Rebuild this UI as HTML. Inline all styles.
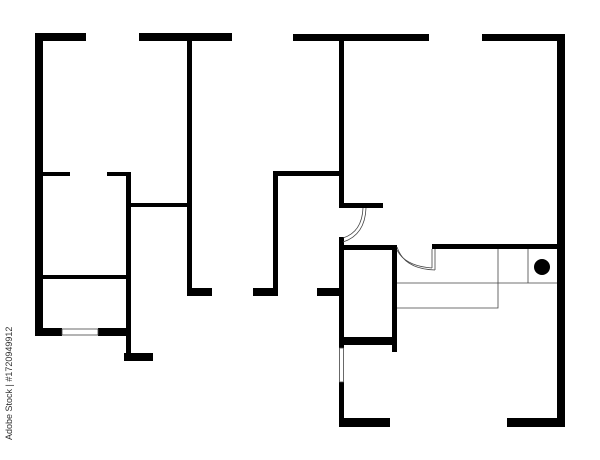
<!DOCTYPE html>
<html><head><meta charset="utf-8"><style>
html,body{margin:0;padding:0;background:#fff;width:600px;height:460px;overflow:hidden}
svg{display:block}
</style></head><body>
<svg width="600" height="460" viewBox="0 0 600 460" xmlns="http://www.w3.org/2000/svg">
<g fill="#000">
<!-- left unit -->
<rect x="35" y="33" width="51" height="8"/>
<rect x="35" y="33" width="8" height="303"/>
<rect x="35" y="328" width="27" height="8"/>
<rect x="98" y="328" width="33" height="8"/>
<rect x="139" y="33" width="93" height="8"/>
<rect x="187" y="33" width="5" height="263"/>
<rect x="187" y="288" width="25" height="8"/>
<rect x="43" y="172" width="27" height="4"/>
<rect x="107" y="172" width="24" height="4"/>
<rect x="126" y="172" width="5" height="189"/>
<rect x="124" y="353" width="29" height="8"/>
<rect x="131" y="203" width="56" height="4"/>
<rect x="43" y="275" width="83" height="4"/>
<!-- middle L -->
<rect x="273" y="171" width="66" height="5"/>
<rect x="273" y="171" width="5" height="125"/>
<rect x="253" y="288" width="25" height="8"/>
<!-- right unit -->
<rect x="293" y="34" width="136" height="7"/>
<rect x="339" y="34" width="5" height="174"/>
<rect x="339" y="203" width="44" height="5"/>
<rect x="339" y="237" width="5" height="111"/>
<rect x="339" y="382" width="5" height="45"/>
<rect x="339" y="418" width="51" height="9"/>
<rect x="317" y="288" width="27" height="8"/>
<rect x="482" y="34" width="83" height="7"/>
<rect x="557" y="34" width="8" height="393"/>
<rect x="507" y="418" width="58" height="9"/>
<rect x="339" y="245" width="58" height="5"/>
<rect x="432" y="244" width="125" height="5"/>
<rect x="392" y="245" width="5" height="107"/>
<rect x="339" y="337" width="58" height="8"/>
<circle cx="542" cy="267" r="8"/>
</g>
<g fill="none" stroke="#444" stroke-width="0.8">
<rect x="62" y="329" width="36" height="6" fill="#fff"/>
<rect x="339.5" y="348" width="4" height="34" fill="#fff"/>
<path d="M397 283 H557 M498 249 V308 H397 M528 249 V283"/>
<path d="M363 208 Q362 232 343 238"/>
<path d="M366 208 Q365 235 343 242"/>
<path d="M397 250 Q405 266 432 268"/>
<path d="M397 247 Q404 269 435 270"/>
<path d="M432 249 V268 M435 249 V270"/>
</g>
<text transform="translate(12,440) rotate(-90)" font-family="Liberation Sans, sans-serif" font-size="9" fill="#333">Adobe Stock | #1720949912</text>
</svg>
</body></html>
